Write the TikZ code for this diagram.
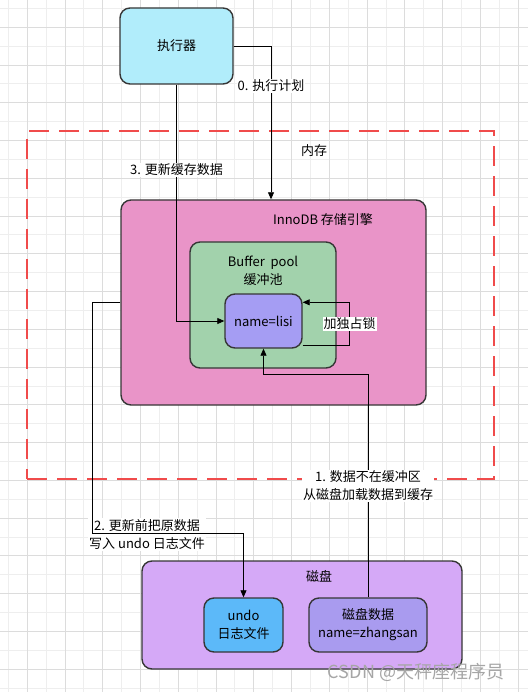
\documentclass[tikz,border=0pt]{standalone}
\usepackage{fontspec}
\setmainfont{Noto Sans CJK SC}
\usetikzlibrary{arrows.meta, positioning}
\definecolor{execfill}{HTML}{B1EDFB}
\definecolor{innofill}{HTML}{E994C8}
\definecolor{poolfill}{HTML}{A2D2AC}
\definecolor{rowfill}{HTML}{A59DF3}
\definecolor{diskfill}{HTML}{D5A9F7}
\definecolor{undofill}{HTML}{5CB9F9}
\definecolor{datafill}{HTML}{A99BEF}
\definecolor{boxline}{HTML}{363636}
\definecolor{memred}{HTML}{F04B4B}
\definecolor{gridminor}{HTML}{EEEEEE}
\definecolor{gridmajor}{HTML}{DCDCDC}
\tikzstyle{box}   = [rectangle, rounded corners=10pt, draw=boxline, line width=1.4pt,
                     inner sep=0pt, align=center]
\tikzstyle{arrow} = [-{Triangle[length=7pt,width=6pt]}, line width=0.8pt]
\tikzstyle{tag}   = [fill=white, inner sep=1pt, align=center]

\begin{document}
\begin{tikzpicture}[x=1pt, y=-1pt, every node/.style={font=\fontsize{13}{18}\selectfont}]
    \useasboundingbox (0,0) rectangle (528,692);
    \fill[white] (0,0) rectangle (528,692);
    \foreach \k in {0,...,28} \draw[gridminor, line width=0.8pt] (8.3+\k*18.88,0) -- (8.3+\k*18.88,692);
    \foreach \k in {0,...,36} \draw[gridminor, line width=0.8pt] (0,8.3+\k*18.88) -- (528,8.3+\k*18.88);
    \foreach \k in {0,...,13} \draw[gridmajor, line width=0.8pt] (27.18+\k*37.76,0) -- (27.18+\k*37.76,692);
    \foreach \k in {0,...,17} \draw[gridmajor, line width=0.8pt] (0,27.18+\k*37.76) -- (528,27.18+\k*37.76);

    \node (mem) [draw=memred, line width=2pt, dash pattern=on 20pt off 10pt, inner sep=0pt,
                 minimum width=467pt, minimum height=348pt] at (260.5,305) {};
    \node (memtitle) at (314,151) {内存};

    \node (exec) [box, fill=execfill, minimum width=113pt, minimum height=76pt] at (176.5,46) {执行器};

    \node (innodb) [box, fill=innofill, minimum width=305pt, minimum height=205pt] at (273.5,302.5) {};
    \node (innotitle) at (323,220) {InnoDB 存储引擎};
    \node (pool) [box, fill=poolfill, minimum width=146pt, minimum height=126pt] at (263,305) {};
    \node (pooltitle) [align=center] at (263,270.5) {Buffer\ \ pool\\缓冲池};
    \node (lisi) [box, fill=rowfill, minimum width=77pt, minimum height=54pt] at (263.5,321) {name=lisi};

    \node (disk) [box, fill=diskfill, minimum width=320pt, minimum height=108pt] at (302,615) {};
    \node (disktitle) at (319,576) {磁盘};
    \node (undo) [box, fill=undofill, minimum width=79pt, minimum height=54pt] at (243.5,625) {undo\\日志文件};
    \node (diskdata) [box, fill=datafill, minimum width=118pt, minimum height=54pt] at (368,625) {磁盘数据\\name=zhangsan};

    \node (undotag) [tag] at (147,534.5) {2. 更新前把原数据\\写入 undo 日志文件};

    \draw[arrow] (exec.east) -| node[tag, pos=0.63] {0. 执行计划} ([xshift=-2.5pt]innodb.north);
    \draw[arrow] (exec.south) |- node[tag, pos=0.18] {3. 更新缓存数据} (lisi.west);
    \draw[arrow] ([yshift=3pt]lisi.south east) -- ++(47,0) |- node[tag, pos=0.25] {加独占锁} ([yshift=-9pt]lisi.north east);
    \draw[arrow] (diskdata.north) -- node[tag, pos=0.5] {1. 数据不在缓冲区\\从磁盘加载数据到缓存} ++(0,-223) -| (lisi.south);
    \draw[arrow] (innodb.west) -- ++(-27.5,0) -- ++(0,231) -| (undo.north);

    \node (mark) [text=black!35, font=\fontsize{18}{20}\selectfont] at (416,672) {CSDN @天秤座程序员};
\end{tikzpicture}
\end{document}
